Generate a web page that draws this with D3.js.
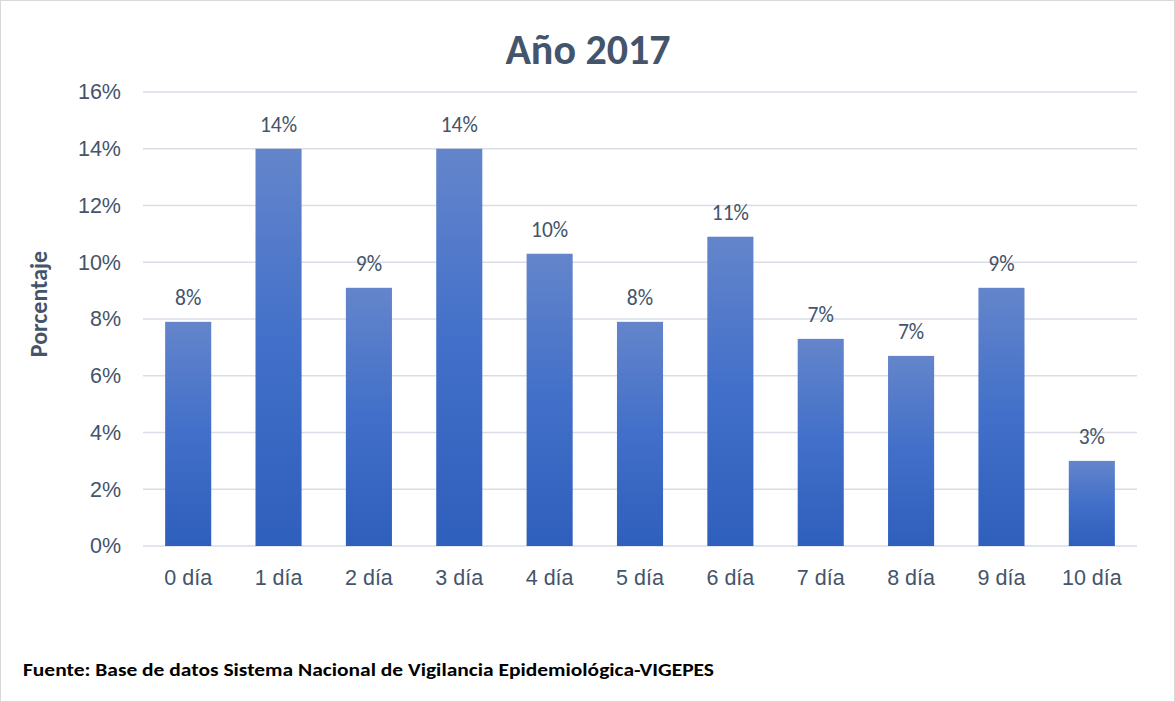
<!DOCTYPE html>
<html>
<head>
<meta charset="utf-8">
<script src="https://cdn.jsdelivr.net/npm/d3@7"></script>
<style>
  html, body { margin: 0; padding: 0; background: #fff; }
  svg { display: block; font-family: Carlito, Calibri, 'Open Sans', sans-serif; }
</style>
</head>
<body>
<div id="chart"></div>
<script>
// Chart data
const categories = ['0 día', '1 día', '2 día', '3 día', '4 día', '5 día', '6 día', '7 día', '8 día', '9 día', '10 día'];
const values = [7.9, 14.0, 9.1, 14.0, 10.3, 7.9, 10.9, 7.3, 6.7, 9.1, 3.0];
const yTicks = [0, 2, 4, 6, 8, 10, 12, 14, 16];

const width = 1175;
const height = 702;
const margin = { top: 92, right: 38, bottom: 156, left: 143 };
const textColor = '#44546A';
const labelSize = 21.5;

const svg = d3.select('#chart')
  .append('svg')
  .attr('width', width)
  .attr('height', height);

// Outer chart border
svg.append('rect')
  .attr('x', 0.5).attr('y', 0.5)
  .attr('width', width - 1).attr('height', height - 1)
  .attr('fill', '#fff')
  .attr('stroke', '#D9D9D9');

// Bar gradient (per bar, light at top)
const defs = svg.append('defs');
const grad = defs.append('linearGradient')
  .attr('id', 'barGrad')
  .attr('x1', 0).attr('y1', 0).attr('x2', 0).attr('y2', 1);
grad.append('stop').attr('offset', '0%').attr('stop-color', '#6485CB');
grad.append('stop').attr('offset', '50%').attr('stop-color', '#416FC9');
grad.append('stop').attr('offset', '100%').attr('stop-color', '#2F5FBC');

const x = d3.scaleBand()
  .domain(categories)
  .range([margin.left, width - margin.right])
  .paddingInner(0.49)
  .paddingOuter(0.245);

const y = d3.scaleLinear()
  .domain([0, 16])
  .range([height - margin.bottom, margin.top]);

// Gridlines
svg.append('g')
  .selectAll('line')
  .data(yTicks)
  .join('line')
  .attr('x1', margin.left)
  .attr('x2', width - margin.right)
  .attr('y1', d => y(d))
  .attr('y2', d => y(d))
  .attr('stroke', '#D9DDE5')
  .attr('stroke-width', 1.5);

// Y axis labels
const yAxis = d3.axisLeft(y)
  .tickValues(yTicks)
  .tickFormat(d => d + '%')
  .tickSize(0)
  .tickPadding(22);

svg.append('g')
  .attr('transform', `translate(${margin.left},0)`)
  .call(yAxis)
  .call(g => g.select('.domain').remove())
  .call(g => g.selectAll('text')
    .attr('fill', textColor)
    .attr('font-size', labelSize)
    .attr('font-family', null));

// X axis labels
const xAxis = d3.axisBottom(x).tickSize(0).tickPadding(24);

svg.append('g')
  .attr('transform', `translate(0,${height - margin.bottom})`)
  .call(xAxis)
  .call(g => g.select('.domain').remove())
  .call(g => g.selectAll('text')
    .attr('fill', textColor)
    .attr('font-size', labelSize)
    .attr('font-family', null));

// Bars
svg.append('g')
  .selectAll('rect')
  .data(values)
  .join('rect')
  .attr('x', (d, i) => x(categories[i]))
  .attr('y', d => y(d))
  .attr('width', x.bandwidth())
  .attr('height', d => y(0) - y(d))
  .attr('fill', 'url(#barGrad)');

// Value labels
svg.append('g')
  .selectAll('text')
  .data(values)
  .join('text')
  .attr('x', (d, i) => x(categories[i]) + x.bandwidth() / 2)
  .attr('y', d => y(d) - 17)
  .attr('text-anchor', 'middle')
  .attr('fill', textColor)
  .attr('font-size', labelSize)
  .text(d => Math.round(d) + '%');

// Title
svg.append('text')
  .attr('x', 588)
  .attr('y', 64)
  .attr('text-anchor', 'middle')
  .attr('fill', textColor)
  .attr('font-size', 42)
  .attr('font-weight', 'bold')
  .text('Año 2017');

// Y axis title
svg.append('text')
  .attr('transform', 'translate(47,304) rotate(-90)')
  .attr('text-anchor', 'middle')
  .attr('fill', textColor)
  .attr('font-size', 24)
  .attr('font-weight', 'bold')
  .text('Porcentaje');

// Source note
svg.append('text')
  .attr('x', 23)
  .attr('y', 676)
  .attr('fill', '#000')
  .attr('font-size', 18)
  .attr('font-weight', 'bold')
  .attr('textLength', 691)
  .attr('lengthAdjust', 'spacingAndGlyphs')
  .text('Fuente: Base de datos Sistema Nacional de Vigilancia Epidemiológica-VIGEPES');
</script>
</body>
</html>
